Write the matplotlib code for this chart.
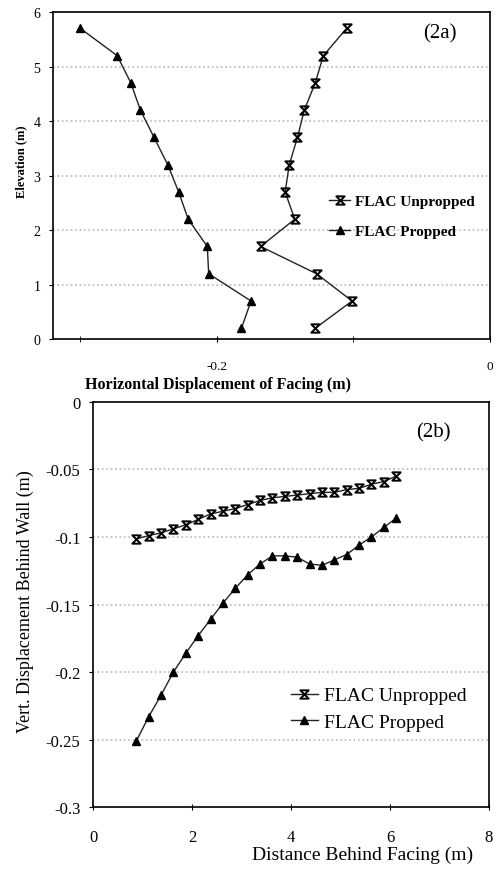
import numpy as np
import matplotlib
matplotlib.use('Agg')
import matplotlib.pyplot as plt
from matplotlib.path import Path

plt.rcParams['font.family'] = ['Liberation Serif', 'DejaVu Serif']

# --- Data ---

# (2a) horizontal facing displacement vs elevation
elevation = [0.2, 0.7, 1.2, 1.7, 2.2, 2.7, 3.2, 3.7, 4.2, 4.7, 5.2, 5.7]
unpropped_h = [-0.128, -0.101, -0.127, -0.168, -0.143, -0.150,
               -0.147, -0.141, -0.136, -0.128, -0.122, -0.105]
propped_h = [-0.182, -0.175, -0.206, -0.207, -0.221, -0.228,
             -0.236, -0.246, -0.256, -0.263, -0.273, -0.300]

# (2b) vertical displacement behind wall vs distance behind facing
distance = [0.875, 1.125, 1.375, 1.625, 1.875, 2.125, 2.375, 2.625, 2.875, 3.125, 3.375,
            3.625, 3.875, 4.125, 4.375, 4.625, 4.875, 5.125, 5.375, 5.625, 5.875, 6.125]
unpropped_v = [-0.1015, -0.099, -0.097, -0.094, -0.091, -0.087, -0.083, -0.081, -0.079, -0.076, -0.073,
               -0.071, -0.070, -0.069, -0.068, -0.067, -0.067, -0.065, -0.064, -0.061, -0.059, -0.055]
propped_v = [-0.251, -0.233, -0.217, -0.200, -0.186, -0.173, -0.161, -0.149, -0.138, -0.128, -0.120,
             -0.114, -0.114, -0.115, -0.120, -0.121, -0.117, -0.113, -0.106, -0.100, -0.093, -0.086]

# hourglass marker (X with top/bottom bars), like the old Excel marker
hourglass = Path([(-1, 1), (1, 1), (-1, -1), (1, -1), (-1, 1)],
                 [Path.MOVETO, Path.LINETO, Path.LINETO, Path.LINETO, Path.CLOSEPOLY])

grid_kw = dict(color='#b8b8b8', linestyle=':', linewidth=1.2)
unprop_kw = dict(color='#222222', linewidth=1.0, marker=hourglass, markersize=6,
                 markerfacecolor='none', markeredgecolor='black', markeredgewidth=1.4)
prop_kw = dict(color='#222222', linewidth=1.0, marker='^', markersize=6,
               markerfacecolor='black', markeredgecolor='black')

fig = plt.figure(figsize=(5, 8.7), dpi=100)

# --- Top plot (2a) ---
ax1 = fig.add_axes([0.106, 0.609, 0.874, 0.376])
ax1.plot(unpropped_h, elevation, label='FLAC Unpropped', **unprop_kw)
ax1.plot(propped_h, elevation, label='FLAC Propped', **prop_kw)
ax1.set_xlim(-0.32, 0)
ax1.set_ylim(0, 6)
ax1.set_xticks([-0.2, 0])
ax1.set_xticklabels(['-0.2', '0'])
ax1.set_xticks([-0.3, -0.1], minor=True)
ax1.set_yticks(range(0, 7))
for y in range(1, 6):
    ax1.axhline(y, zorder=0, **grid_kw)
ax1.tick_params(axis='x', which='both', direction='inout', length=4, pad=13, labelsize=9.5)
ax1.tick_params(axis='y', direction='out', length=3, pad=6, labelsize=10)
ax1.set_xlabel('Horizontal Displacement of Facing (m)', fontsize=11.5, fontweight='bold')
ax1.xaxis.set_label_coords(0.378, -0.112)
ax1.set_ylabel('Elevation (m)', fontsize=9, fontweight='bold')
ax1.yaxis.set_label_coords(-0.058, 0.544)
for s in ax1.spines.values():
    s.set_linewidth(1.2)
ax1.text(0.885, 0.935, '(2a)', transform=ax1.transAxes, fontsize=15, ha='center', va='center')
ax1.legend(loc='upper left', bbox_to_anchor=(0.6, 0.485), frameon=False, handlelength=1.4,
           handletextpad=0.3, labelspacing=1.1, prop={'size': 11, 'weight': 'bold'})

# --- Bottom plot (2b) ---
ax2 = fig.add_axes([0.186, 0.071, 0.792, 0.466])
ax2.plot(distance, unpropped_v, label='FLAC Unpropped', **unprop_kw)
ax2.plot(distance, propped_v, label='FLAC Propped', **prop_kw)
ax2.set_xlim(0, 8)
ax2.set_ylim(-0.3, 0)
ax2.set_xticks([0, 2, 4, 6, 8])
ax2.set_xticklabels(['0', '2', '4', '6', '8'])
ax2.set_yticks([0, -0.05, -0.1, -0.15, -0.2, -0.25, -0.3])
ax2.set_yticklabels(['0', '-0.05', '-0.1', '-0.15', '-0.2', '-0.25', '-0.3'])
for y in [-0.05, -0.1, -0.15, -0.2, -0.25]:
    ax2.axhline(y, zorder=0, **grid_kw)
ax2.tick_params(axis='x', direction='inout', length=4, pad=14, labelsize=12)
ax2.tick_params(axis='y', direction='out', length=3, pad=6, labelsize=12)
ax2.set_xlabel('Distance Behind Facing (m)', fontsize=14)
ax2.xaxis.set_label_coords(0.68, -0.095)
ax2.set_ylabel('Vert. Displacement Behind Wall (m)', fontsize=13)
ax2.yaxis.set_label_coords(-0.15, 0.51)
for s in ax2.spines.values():
    s.set_linewidth(1.2)
ax2.text(0.86, 0.925, '(2b)', transform=ax2.transAxes, fontsize=15, ha='center', va='center')
ax2.legend(loc='upper left', bbox_to_anchor=(0.455, 0.34), frameon=False, handlelength=1.4,
           handletextpad=0.3, labelspacing=0.45, prop={'size': 14})

fig.savefig('out.png', dpi=100)
